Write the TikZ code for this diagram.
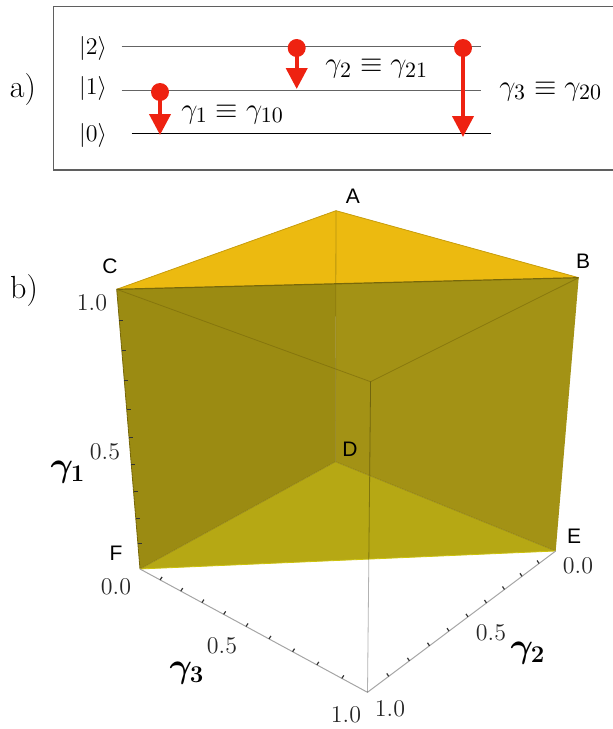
\documentclass[tikz,border=0pt]{standalone}
\usepackage{amsmath,bm}
\usepackage{fontspec}
\newfontfamily\vertexfont{Liberation Sans}
\usetikzlibrary{arrows.meta,calc}
\definecolor{decayred}{RGB}{238,34,17}
\definecolor{framegray}{RGB}{95,95,95}
\definecolor{levelgray}{RGB}{100,100,100}
\definecolor{topgold}{RGB}{236,186,16}
\definecolor{backleft}{RGB}{155,139,18}
\definecolor{backright}{RGB}{163,146,21}
\definecolor{floorface}{RGB}{182,168,20}
\definecolor{edgeolive}{RGB}{120,104,10}
\definecolor{axisgray}{RGB}{165,165,165}

\begin{document}
\begin{tikzpicture}[x=0.5pt,y=-0.5pt,
  level/.style={draw=levelgray, line width=0.75pt},
  decay/.style={draw=decayred, line width=2pt, -{Triangle[length=10.5pt,width=10.5pt]}},
  ket/.style={font=\fontsize{12.5}{15}\selectfont},
  ratelabel/.style={font=\fontsize{15.6}{18}\selectfont, anchor=base},
  panel/.style={font=\fontsize{16}{19}\selectfont},
  vertexlabel/.style={font=\vertexfont\fontsize{10.5}{12}\selectfont},
  ticklabel/.style={font=\fontsize{13}{15}\selectfont, text=black!85},
  axislabel/.style={font=\fontsize{17.5}{20}\selectfont},
  axisline/.style={draw=axisgray, line width=0.5pt},
  tickmark/.style={draw=black!80, line width=0.6pt}]
  \useasboundingbox (0,0) rectangle (613,729);

  % a) level scheme
  \node[panel] (pa) at (23,90) {a)};
  \draw[framegray, line width=0.75pt] (616,6.7) -- (53.3,6.7) -- (53.3,170) -- (616,170);
  \node[ket] (k2) at (93,48) {$|2\rangle$};
  \node[ket] (k1) at (93,88) {$|1\rangle$};
  \node[ket] (k0) at (93,135) {$|0\rangle$};
  \draw[level] (121.7,46.7) -- (480.7,46.7);
  \draw[level] (121.7,90.7) -- (480.7,90.7);
  \draw[level, draw=black] (131.7,133.3) -- (490.7,133.3);

  % decay channels
  \coordinate (d10) at (160,92);    \coordinate (t10) at (160,135);
  \coordinate (d21) at (296.7,48);  \coordinate (t21) at (296.7,89);
  \coordinate (d20) at (463,48);    \coordinate (t20) at (463,137);
  \foreach \c in {10,21,20} {
    \fill[decayred] (d\c) circle (4.5pt);
    \draw[decay] (d\c) -- (t\c);
  }
  \node[ratelabel] (g10) at (232.5,118) {$\gamma_1\equiv\gamma_{10}$};
  \node[ratelabel] (g21) at (376.7,72.7) {$\gamma_2\equiv\gamma_{21}$};
  \node[ratelabel] (g20) at (550.7,95.3) {$\gamma_3\equiv\gamma_{20}$};

  % b) prism
  \node[panel] (pb) at (24,291) {b)};
  \coordinate (A) at (336,210.7);
  \coordinate (B) at (578.7,277.7);
  \coordinate (C) at (116.7,289.3);
  \coordinate (D) at (335.4,461.7);
  \coordinate (E) at (555.7,551);
  \coordinate (F) at (140,569);
  \coordinate (G) at (370.6,381.7);
  \coordinate (O) at (367.5,692.3);

  \fill[backleft] (A) -- (C) -- (F) -- (D) -- cycle;
  \fill[backright] (A) -- (B) -- (E) -- (D) -- cycle;
  \fill[floorface] (D) -- (E) -- (F) -- cycle;
  \fill[topgold] (A) -- (B) -- (C) -- cycle;

  % edges
  \draw[edgeolive, line width=0.4pt, opacity=0.45] (A) -- (D) (D) -- (F) (D) -- (E);
  \draw[edgeolive, line width=0.4pt, opacity=0.6] (C) -- (G) -- (B);
  \draw[topgold!85!black, line width=0.4pt] (A) -- (C) (A) -- (B);
  \draw[edgeolive, line width=0.6pt] (C) -- (B);
  \draw[edgeolive, line width=0.4pt] (C) -- (F);
  \draw[floorface!70!yellow, line width=0.4pt] (F) -- (E);

  % axes
  \draw[axisline] (F) -- (O) -- (E);
  \draw[black, line width=0.4pt, opacity=0.3] (G) -- (O);
  \foreach \k in {1,...,9} {
    \pgfmathsetmacro\tz{(\k/10)*0.89/((\k/10)*0.89+1-\k/10)}
    \pgfmathsetmacro\tx{(\k/10)*0.873/((\k/10)*0.873+1-\k/10)}
    \draw[tickmark] ($(F)!\tz!(C)$) -- ++(4,0);
    \draw[tickmark] ($(F)!\tx!(O)$) -- ++(2,-3);
    \draw[tickmark] ($(E)!\tx!(O)$) -- ++(-2,-3);
  }

  % vertex labels
  \node[vertexlabel] (lA) at (353,196) {A};
  \node[vertexlabel] (lB) at (583,261) {B};
  \node[vertexlabel] (lC) at (110,266) {C};
  \node[vertexlabel] (lD) at (350,449) {D};
  \node[vertexlabel] (lE) at (574,536) {E};
  \node[vertexlabel] (lF) at (116,553) {F};

  % tick labels
  \node[ticklabel] (z10) at (92,303) {$1.0$};
  \node[ticklabel] (z05) at (105,452) {$0.5$};
  \node[ticklabel] (z00) at (116,587) {$0.0$};
  \node[ticklabel] (x05) at (222,646) {$0.5$};
  \node[ticklabel] (x10) at (346,715) {$1.0$};
  \node[ticklabel] (y00) at (578,566) {$0.0$};
  \node[ticklabel] (y05) at (491,633) {$0.5$};
  \node[ticklabel] (y10) at (390,709) {$1.0$};
  \node[axislabel] (ax1) at (68,472) {$\bm{\gamma_1}$};
  \node[axislabel] (ax3) at (187,673) {$\bm{\gamma_3}$};
  \node[axislabel] (ax2) at (528,653) {$\bm{\gamma_2}$};
\end{tikzpicture}
\end{document}
